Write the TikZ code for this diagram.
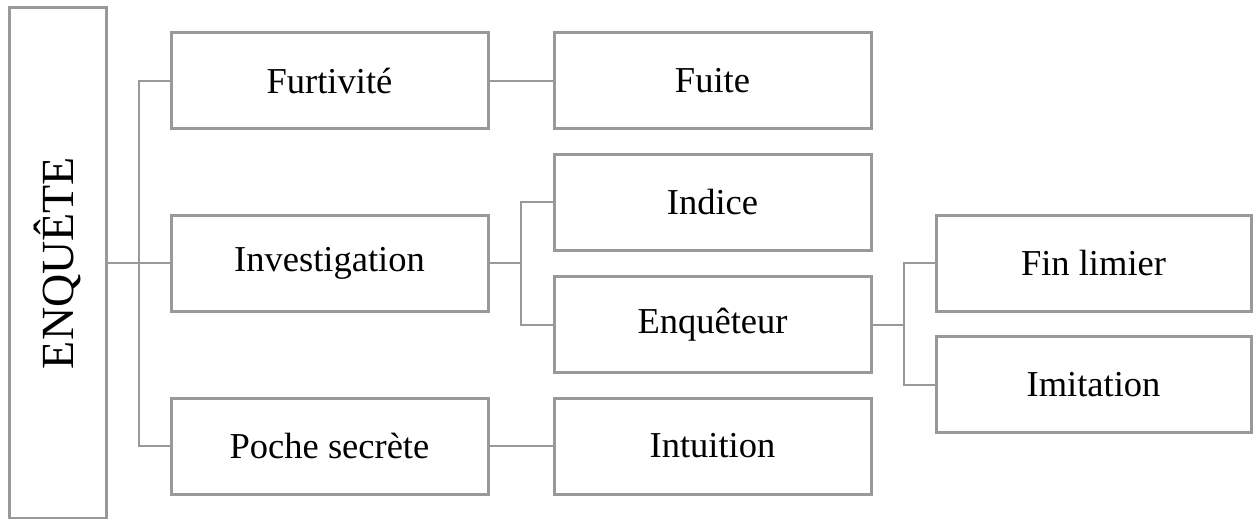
\documentclass[tikz,border=0pt]{standalone}
\usepackage{fontspec}
\setmainfont{Liberation Serif}
\usepackage{tikz}
\usetikzlibrary{positioning, calc}
\definecolor{boxgray}{HTML}{999999}

\begin{document}
\begin{tikzpicture}[
    x=1pt, y=-1pt,
    on grid,
    every node/.style={draw=boxgray, line width=3pt, fill=white, inner sep=0pt},
    leafbox/.style={minimum width=317pt, minimum height=96pt, font=\fontsize{36.5}{40}\selectfont},
    rootbox/.style={minimum width=97pt, minimum height=511pt},
    link/.style={draw=boxgray, line width=2pt}
]
    \useasboundingbox (0,0) rectangle (1258,519);

    % Define nodes
    \node[rootbox] (enquete) at (57.5,263) {};
    \node[draw=none, fill=none, rotate=90, font=\fontsize{46}{50}\selectfont] (enqlabel) at (enquete.center) {ENQUÊTE};
    \node[leafbox] (investigation) at (329.5,263) {Investigation};
    \node[leafbox, above=182.5pt of investigation] (furtivite) {Furtivité};
    \node[leafbox, below=183pt of investigation] (poche) {Poche secrète};
    \node[leafbox, right=383pt of furtivite] (fuite) {Fuite};
    \node[leafbox, right=383pt of investigation, yshift=61pt] (indice) {Indice};
    \node[leafbox, right=383pt of investigation, yshift=-61.5pt] (enqueteur) {Enquêteur};
    \node[leafbox, right=383pt of poche] (intuition) {Intuition};
    \node[leafbox, minimum width=315pt, right=381pt of enqueteur, yshift=61.5pt] (finlimier) {Fin limier};
    \node[leafbox, minimum width=315pt, right=381pt of enqueteur, yshift=-60pt] (imitation) {Imitation};

    % Split points
    \coordinate (split1) at ($(enquete.east)!0.5!(investigation.west)$);
    \coordinate (split2) at ($(investigation.east)!0.5!(indice.west |- investigation.east)$);
    \coordinate (split3) at ($(enqueteur.east)!0.5!(finlimier.west |- enqueteur.east)$);

    % Connections
    \path[link] (enquete.east) -- (investigation.west);
    \path[link] (furtivite.west) -| (split1) |- (poche.west);
    \path[link] (furtivite.east) -- (fuite.west);
    \path[link] (poche.east) -- (intuition.west);
    \path[link] (investigation.east) -- (split2);
    \path[link] (indice.west) -| (split2) |- (enqueteur.west);
    \path[link] (enqueteur.east) -- (split3);
    \path[link] (finlimier.west) -| (split3) |- (imitation.west);
\end{tikzpicture}
\end{document}
